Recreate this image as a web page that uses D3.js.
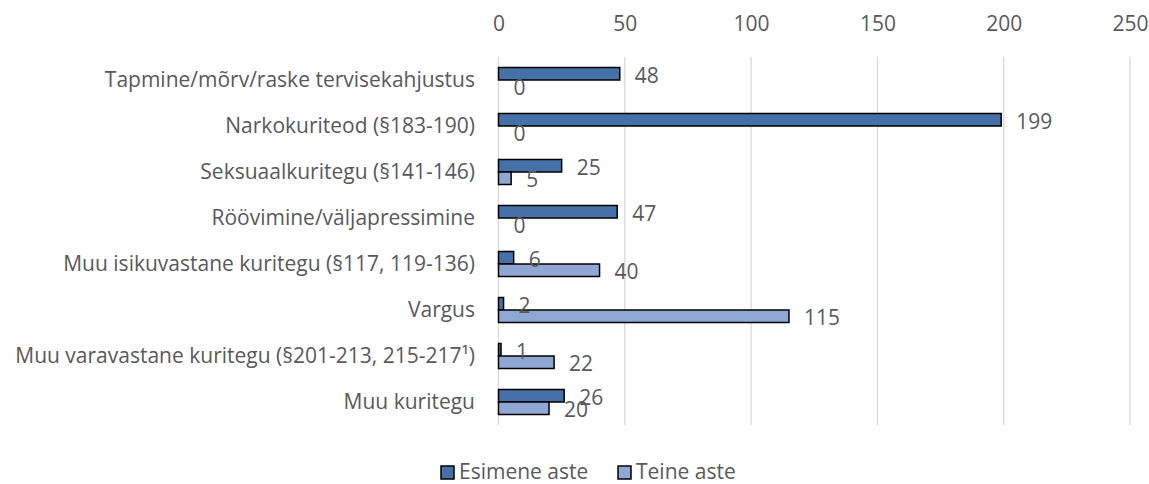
<!DOCTYPE html>
<html>
<head>
<meta charset="utf-8">
<script src="https://cdn.jsdelivr.net/npm/d3@7"></script>
<style>
    body { margin: 0; background: #fff; }
    svg text { font-family: "Open Sans", sans-serif; fill: #595959; }
</style>
</head>
<body>
<div id="chart"></div>
<script>
// chart data
const categories = [
    'Tapmine/mõrv/raske tervisekahjustus',
    'Narkokuriteod (§183-190)',
    'Seksuaalkuritegu (§141-146)',
    'Röövimine/väljapressimine',
    'Muu isikuvastane kuritegu (§117, 119-136)',
    'Vargus',
    'Muu varavastane kuritegu (§201-213, 215-217¹)',
    'Muu kuritegu'
];
const seriesNames = ['Esimene aste', 'Teine aste'];
const esimene = [48, 199, 25, 47, 6, 2, 1, 26];
const teine = [0, 0, 5, 0, 40, 115, 22, 20];
const tickValues = [0, 50, 100, 150, 200, 250];

const colors = ['#4671A8', '#8FA8D3'];
const width = 1149, height = 484;
const fontSize = 21;

const svg = d3.select('#chart')
    .append('svg')
    .attr('width', width)
    .attr('height', height);

// scales
const x = d3.scaleLinear().domain([0, 250]).range([498.5, 1130]);
const y = d3.scaleBand().domain(categories).range([57, 425]);
const ySub = d3.scaleBand().domain(seriesNames).range([0, y.bandwidth()]).paddingOuter(0.84);

// gridlines
svg.append('g')
    .selectAll('line')
    .data(tickValues)
    .join('line')
    .attr('x1', d => x(d)).attr('x2', d => x(d))
    .attr('y1', 57).attr('y2', 425)
    .attr('stroke', '#d9d9d9')
    .attr('stroke-width', 1.3);

// top axis labels
const xAxis = svg.append('g')
    .attr('transform', 'translate(0, 31)')
    .call(d3.axisTop(x).tickValues(tickValues).tickSize(0).tickPadding(0));
xAxis.select('.domain').remove();
xAxis.selectAll('text')
    .attr('dy', 0)
    .style('font-size', fontSize + 'px')
    .style('font-family', '"Open Sans", sans-serif')
    .attr('fill', '#595959');

// category labels
const yAxis = svg.append('g')
    .attr('transform', 'translate(475, 0)')
    .call(d3.axisLeft(y).tickSize(0).tickPadding(0));
yAxis.select('.domain').remove();
yAxis.selectAll('text')
    .attr('dy', 7)
    .attr('dominant-baseline', 'auto')
    .style('font-size', fontSize + 'px')
    .style('font-family', '"Open Sans", sans-serif')
    .attr('fill', '#595959');

// rows of data
const rows = categories.map((c, i) => ({
    category: c,
    values: [
        { name: seriesNames[0], value: esimene[i] },
        { name: seriesNames[1], value: teine[i] }
    ]
}));

const groups = svg.append('g')
    .selectAll('g')
    .data(rows)
    .join('g')
    .attr('transform', d => `translate(0, ${y(d.category)})`);

// bars (zero values draw nothing)
groups.selectAll('rect')
    .data(d => d.values.filter(v => v.value > 0))
    .join('rect')
    .attr('x', x(0))
    .attr('y', d => ySub(d.name))
    .attr('width', d => x(d.value) - x(0))
    .attr('height', ySub.bandwidth())
    .attr('fill', d => colors[seriesNames.indexOf(d.name)])
    .attr('stroke', '#000')
    .attr('stroke-width', 1.5);

// data labels
groups.selectAll('text.val')
    .data(d => d.values)
    .join('text')
    .attr('class', 'val')
    .attr('x', d => x(d.value) + 15)
    .attr('y', d => ySub(d.name) + ySub.bandwidth() / 2 + 9)
    .style('font-size', fontSize + 'px')
    .text(d => d.value);

// legend
const legendItems = [
    { name: seriesNames[0], color: colors[0], x: 441 },
    { name: seriesNames[1], color: colors[1], x: 618 }
];
const legend = svg.append('g')
    .selectAll('g')
    .data(legendItems)
    .join('g')
    .attr('transform', d => `translate(${d.x}, 0)`);

legend.append('rect')
    .attr('x', 0)
    .attr('y', 466)
    .attr('width', 13)
    .attr('height', 13)
    .attr('fill', d => d.color)
    .attr('stroke', '#000')
    .attr('stroke-width', 1.5);

legend.append('text')
    .attr('x', 18)
    .attr('y', 478.5)
    .style('font-size', fontSize + 'px')
    .text(d => d.name);
</script>
</body>
</html>
